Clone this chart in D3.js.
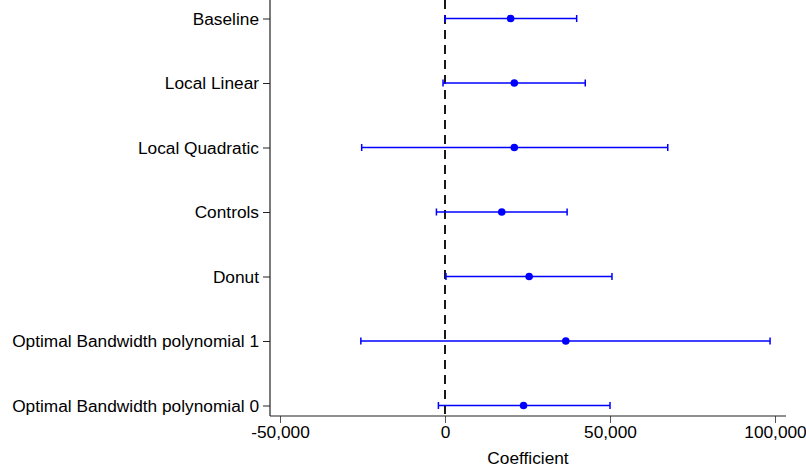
<!DOCTYPE html>
<html>
<head>
<meta charset="utf-8">
<script src="https://cdn.jsdelivr.net/npm/d3@7"></script>
<style>
  body { margin: 0; background: #fff; }
  svg { display: block; }
  svg text { font-family: "Liberation Sans", Arial, sans-serif; }
</style>
</head>
<body>
<div id="visual-container"></div>
<script>
const labels = ["Baseline", "Local Linear", "Local Quadratic", "Controls", "Donut",
                "Optimal Bandwidth polynomial 1", "Optimal Bandwidth polynomial 0"]
const estimates = [19900, 21000, 21000, 17200, 25500, 36600, 23800]
const lower = [0, -600, -25250, -2600, 300, -25500, -2000]
const upper = [39900, 42500, 67500, 37000, 50600, 98500, 50000]
const xTicks = [-50000, 0, 50000, 100000]

const width = 806
const height = 471
const left = 270
const right = 786
const bottom = 416
const fontSize = 17.3

const rows = labels.map((l, i) => ({ label: l, est: estimates[i], lo: lower[i], hi: upper[i], pos: i + 1 }))

const svg = d3.select('#visual-container')
  .append('svg')
  .attr('width', width)
  .attr('height', height)

const xScale = d3.scaleLinear()
  .domain([0, 50000])
  .range([445, 610])
const yScale = d3.scaleLinear()
  .domain([1, 7])
  .range([18.5, 405.5])

// y axis
const yAxis = d3.axisLeft(yScale)
  .tickValues(rows.map(d => d.pos))
  .tickFormat(d => labels[d - 1])
  .tickSize(7)
  .tickPadding(4)
const gy = svg.append('g')
  .attr('transform', `translate(${left},0)`)
  .call(yAxis)
gy.select('.domain').remove()
gy.append('line').attr('x1', 0).attr('x2', 0).attr('y1', 0).attr('y2', bottom)
  .attr('stroke', '#222').attr('stroke-width', 1.2)
gy.selectAll('.tick line').attr('stroke', '#222')
gy.selectAll('.tick text').attr('font-size', fontSize).attr('fill', '#000')

// x axis
const fmt = d3.format(',')
const xAxis = d3.axisBottom(xScale)
  .tickValues(xTicks)
  .tickFormat(d => fmt(d).replace('\u2212', '-'))
  .tickSize(7)
  .tickPadding(3)
const gx = svg.append('g')
  .attr('transform', `translate(0,${bottom})`)
  .call(xAxis)
gx.select('.domain').remove()
gx.append('line').attr('x1', left).attr('x2', right).attr('y1', 0).attr('y2', 0)
  .attr('stroke', '#222').attr('stroke-width', 1.2)
gx.selectAll('.tick line').attr('stroke', '#555')
gx.selectAll('.tick text').attr('font-size', fontSize).attr('fill', '#000')

svg.append('text')
  .attr('x', (left + right) / 2)
  .attr('y', 464)
  .attr('text-anchor', 'middle')
  .attr('font-size', fontSize)
  .text('Coefficient')

// zero reference line
svg.append('line')
  .attr('x1', xScale(0)).attr('x2', xScale(0))
  .attr('y1', 0).attr('y2', bottom)
  .attr('stroke', '#000')
  .attr('stroke-width', 1.8)
  .attr('stroke-dasharray', '9,6')

// confidence intervals
const g = svg.append('g').attr('stroke', '#0000ff').attr('stroke-width', 1.5)
g.selectAll('.ci')
  .data(rows)
  .enter()
  .append('line')
  .attr('x1', d => xScale(d.lo)).attr('x2', d => xScale(d.hi))
  .attr('y1', d => yScale(d.pos)).attr('y2', d => yScale(d.pos))
g.selectAll('.cap-lo')
  .data(rows)
  .enter()
  .append('line')
  .attr('x1', d => xScale(d.lo)).attr('x2', d => xScale(d.lo))
  .attr('y1', d => yScale(d.pos) - 3.5).attr('y2', d => yScale(d.pos) + 3.5)
g.selectAll('.cap-hi')
  .data(rows)
  .enter()
  .append('line')
  .attr('x1', d => xScale(d.hi)).attr('x2', d => xScale(d.hi))
  .attr('y1', d => yScale(d.pos) - 3.5).attr('y2', d => yScale(d.pos) + 3.5)

svg.selectAll('.dot')
  .data(rows)
  .enter()
  .append('circle')
  .attr('cx', d => xScale(d.est))
  .attr('cy', d => yScale(d.pos))
  .attr('r', 3.8)
  .attr('fill', '#0000ff')
</script>
</body>
</html>
